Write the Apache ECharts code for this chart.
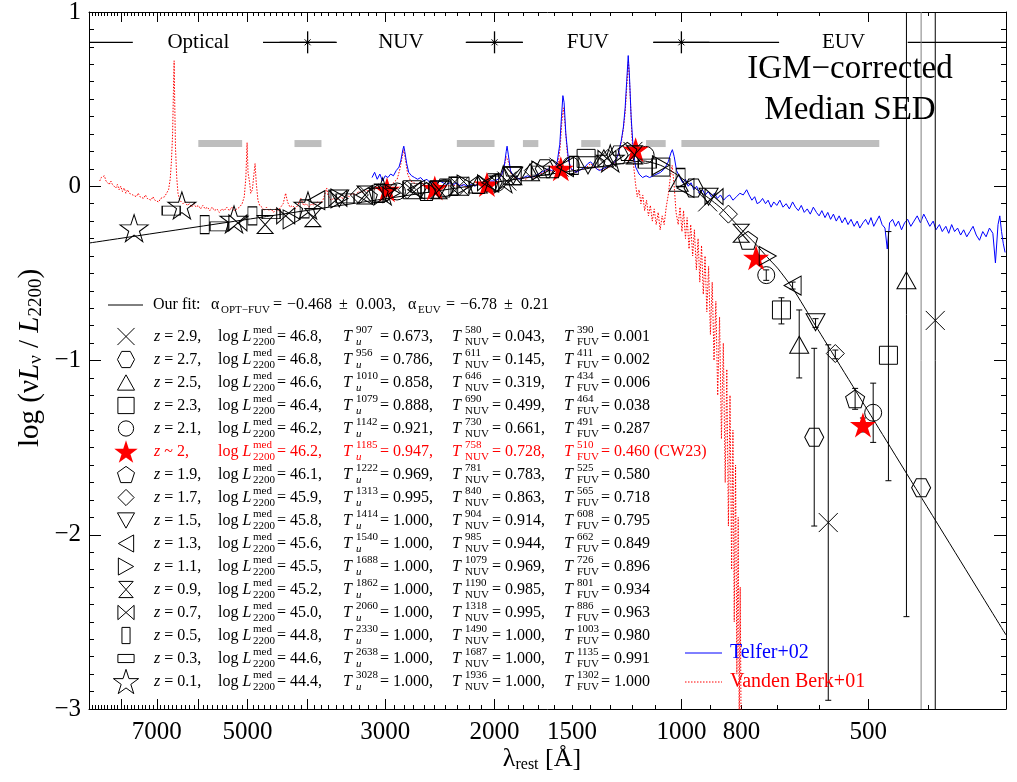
<!DOCTYPE html>
<html><head><meta charset="utf-8">
<script src="https://cdn.jsdelivr.net/npm/echarts@6/dist/echarts.min.js"></script>
<style>html,body{margin:0;padding:0;background:#fff}#c{width:1017px;height:782px}</style>
</head><body><div id="c"></div>
<script>
// ---------------- DATA ----------------
const lamMin = 300, lamMax = 9000;
const tickLabelValues = [7000, 5000, 3000, 2000, 1500, 1000, 800, 500];
const majorTickValues = [8000, 7000, 6000, 5000, 4000, 3000, 2000, 1000, 500];

const bandNames = ['Optical', 'NUV', 'FUV', 'EUV'];
const bandLabelLambda = [6000, 2830, 1415, 548];
const bandBoundaries = [4000, 2000, 1000];
const bandSegments = [[9000, 7650], [4720, 3590], [2225, 1800], [1110, 696], [432, 300]];
const bandLineValue = 0.826;

const grayWindows = [[6000, 5100], [4200, 3800], [2300, 2000], [1800, 1700], [1450, 1350], [1140, 1060], [1000, 480]];
const grayWindowValue = 0.245;

// best-fit broken power law
const fitLambda = [9000, 2200, 1500, 1250, 1150, 1080, 1020, 960, 910, 860, 800, 760, 726, 700, 662, 608, 491, 300];
const fitValue = [-0.326, 0.0, 0.088, 0.13, 0.145, 0.12, 0.07, 0.0, -0.06, -0.13, -0.25, -0.33, -0.41, -0.47, -0.585, -0.80, -1.337, -2.575];

const zLabels = ['2.9', '2.7', '2.5', '2.3', '2.1', '~ 2', '1.9', '1.7', '1.5', '1.3', '1.1', '0.9', '0.7', '0.5', '0.3', '0.1'];
const logL2200 = ['46.8', '46.8', '46.6', '46.4', '46.2', '46.2', '46.1', '45.9', '45.8', '45.6', '45.5', '45.2', '45.0', '44.8', '44.6', '44.4'];
const lamU = [907, 956, 1010, 1079, 1142, 1185, 1222, 1313, 1414, 1540, 1688, 1862, 2060, 2330, 2638, 3028];
const tU = ['0.673', '0.786', '0.858', '0.888', '0.921', '0.947', '0.969', '0.995', '1.000', '1.000', '1.000', '1.000', '1.000', '1.000', '1.000', '1.000'];
const lamNUV = [580, 611, 646, 690, 730, 758, 781, 840, 904, 985, 1079, 1190, 1318, 1490, 1687, 1936];
const tNUV = ['0.043', '0.145', '0.319', '0.499', '0.661', '0.728', '0.783', '0.863', '0.914', '0.944', '0.969', '0.985', '0.995', '1.000', '1.000', '1.000'];
const lamFUV = [390, 411, 434, 464, 491, 510, 525, 565, 608, 662, 726, 801, 886, 1003, 1135, 1302];
const tFUV = ['0.001', '0.002', '0.006', '0.038', '0.287', '0.460', '0.580', '0.718', '0.795', '0.849', '0.896', '0.934', '0.963', '0.980', '0.991', '1.000'];

// rest wavelengths of the photometric points (FUV, NUV, u, g, r, i, z) per redshift bin
const sedLambda = [
  [390, 580, 907, 1197, 1575, 1911, 2281],
  [411, 611, 956, 1262, 1660, 2014, 2405],
  [434, 646, 1010, 1333, 1753, 2128, 2540],
  [464, 690, 1079, 1424, 1873, 2273, 2714],
  [491, 730, 1142, 1507, 1982, 2406, 2872],
  [510, 758, 1185, 1564, 2057, 2496, 2980],
  [525, 781, 1222, 1613, 2122, 2574, 3073],
  [565, 840, 1313, 1732, 2279, 2766, 3302],
  [608, 904, 1414, 1866, 2455, 2979, 3557],
  [662, 985, 1540, 2032, 2674, 3244, 3873],
  [726, 1079, 1688, 2227, 2930, 3555, 4245],
  [801, 1190, 1862, 2457, 3233, 3923, 4683],
  [886, 1318, 2060, 2718, 3576, 4339, 5181],
  [1003, 1490, 2330, 3075, 4045, 4909, 5860],
  [1135, 1687, 2638, 3481, 4580, 5558, 6635],
  [1302, 1936, 3028, 3995, 5256, 6377, 7614]
];
const sedValue = [
  [-0.77, -1.93, -0.09, 0.20, 0.11, 0.03, 0.00],
  [-1.73, -1.44, -0.01, 0.18, 0.10, 0.02, -0.01],
  [-0.54, -0.91, 0.02, 0.16, 0.08, 0.01, -0.02],
  [-0.97, -0.71, 0.11, 0.16, 0.06, 0.00, -0.02],
  [-1.30, -0.51, 0.18, 0.12, 0.02, -0.01, -0.03],
  [-1.37, -0.41, 0.21, 0.10, 0.01, -0.01, -0.02],
  [-1.22, -0.31, 0.20, 0.10, 0.01, -0.03, -0.04],
  [-0.96, -0.16, 0.16, 0.09, 0.00, -0.02, -0.05],
  [-0.78, -0.06, 0.12, 0.06, -0.02, -0.04, -0.07],
  [-0.57, -0.01, 0.11, 0.02, -0.02, -0.05, -0.08],
  [-0.40, 0.12, 0.09, 0.01, -0.04, -0.07, -0.19],
  [-0.27, 0.18, 0.06, -0.02, -0.05, -0.18, -0.22],
  [-0.06, 0.16, 0.02, -0.02, -0.07, -0.17, -0.21],
  [0.05, 0.12, 0.00, -0.04, -0.13, -0.17, -0.22],
  [0.13, 0.09, -0.01, -0.07, -0.16, -0.23, -0.14],
  [0.16, 0.04, -0.03, -0.11, -0.19, -0.11, -0.24]
];

// error bars on the EUV points: wavelength, low, high
const errLambda = [390, 580, 611, 434, 646, 464, 690, 491, 730, 510, 525, 565, 608, 662];
const errLow = [-3.3, -2.95, -1.95, -2.47, -1.10, -1.69, -0.79, -1.47, -0.54, -1.41, -1.28, -0.99, -0.81, -0.59];
const errHigh = [1.3, -0.91, -0.93, 1.3, -0.71, -0.26, -0.64, -1.13, -0.48, -1.33, -1.16, -0.94, -0.76, -0.55];
const errGrayLambda = [411];
const errGrayLow = [-3.3];
const errGrayHigh = [1.3];

const telferSpectrum = [
[3150,0.05],[3120,0.08],[3090,0.04],[3060,0.07],[3030,0.03],[3000,0.06],[2970,0.05],[2940,0.07],[2910,0.06],[2880,0.09],[2850,0.11],[2830,0.15],[2810,0.21],[2800,0.23],[2790,0.20],[2770,0.13],[2750,0.08],[2720,0.06],[2690,0.05],[2660,0.04],[2630,0.05],[2600,0.03],[2570,0.04],[2540,0.02],[2510,0.03],[2480,0.02],[2450,0.03],[2420,0.02],[2390,0.01],[2360,0.02],[2330,0.01],[2300,0.02],[2270,0.00],[2240,0.01],[2210,0.00],[2180,0.01],[2150,0.00],[2120,0.02],[2090,0.01],[2060,0.02],[2030,0.03],[2000,0.03],[1975,0.04],[1950,0.06],[1930,0.11],[1915,0.20],[1909,0.23],[1900,0.18],[1885,0.09],[1865,0.06],[1845,0.05],[1820,0.04],[1795,0.05],[1770,0.06],[1745,0.05],[1720,0.06],[1700,0.07],[1680,0.08],[1660,0.09],[1640,0.10],[1620,0.09],[1600,0.10],[1585,0.14],[1570,0.24],[1560,0.40],[1552,0.52],[1545,0.48],[1535,0.30],[1520,0.15],[1505,0.10],[1490,0.09],[1475,0.08],[1460,0.09],[1445,0.10],[1430,0.11],[1415,0.13],[1400,0.14],[1385,0.12],[1370,0.10],[1355,0.09],[1340,0.10],[1320,0.11],[1300,0.12],[1280,0.14],[1265,0.18],[1250,0.26],[1240,0.34],[1232,0.45],[1225,0.60],[1218,0.75],[1212,0.62],[1205,0.40],[1195,0.20],[1185,0.11],[1170,0.07],[1155,0.05],[1140,0.06],[1125,0.05],[1110,0.06],[1095,0.07],[1080,0.08],[1065,0.10],[1050,0.14],[1040,0.19],[1034,0.21],[1027,0.17],[1018,0.09],[1006,0.05],
[995,0.02],[985,0.04],[975,0.00],[965,0.02],[955,-0.02],[945,0.00],[935,-0.04],[925,-0.02],[915,-0.05],[905,-0.03],[895,-0.06],[885,-0.04],[875,-0.07],[865,-0.05],[855,-0.08],[845,-0.06],[836,-0.05],[826,-0.08],[815,-0.06],[805,-0.04],[795,-0.05],[785,-0.02],[778,-0.05],[770,-0.08],[762,-0.06],[755,-0.10],[747,-0.09],[740,-0.07],[732,-0.10],[725,-0.08],[717,-0.12],[710,-0.09],[702,-0.11],[694,-0.08],[686,-0.12],[678,-0.10],[670,-0.13],[662,-0.09],[655,-0.12],[648,-0.14],[641,-0.11],[634,-0.15],[627,-0.13],[620,-0.16],[613,-0.12],[606,-0.15],[600,-0.17],[594,-0.14],[587,-0.18],[581,-0.15],[575,-0.19],[569,-0.16],[563,-0.20],[557,-0.17],[551,-0.21],[545,-0.18],[539,-0.22],[533,-0.19],[527,-0.23],[521,-0.20],[516,-0.24],[510,-0.21],[505,-0.19],[500,-0.22],[495,-0.18],[490,-0.23],[485,-0.20],[480,-0.17],[475,-0.22],[470,-0.24],[466,-0.36],[462,-0.21],[457,-0.19],[452,-0.23],[447,-0.20],[442,-0.25],[437,-0.21],[432,-0.19],[427,-0.23],[422,-0.20],[417,-0.17],[412,-0.21],[407,-0.16],[403,-0.19],[398,-0.23],[393,-0.20],[389,-0.25],[384,-0.22],[380,-0.26],[375,-0.23],[371,-0.27],[367,-0.22],[363,-0.26],[359,-0.24],[355,-0.28],[351,-0.25],[347,-0.29],[343,-0.26],[339,-0.23],[335,-0.28],[331,-0.31],[327,-0.26],[323,-0.29],[319,-0.24],[315,-0.27],[312,-0.44],[309,-0.22],[307,-0.17],[305,-0.26],[303,-0.33],[301,-0.38]
];

const vandenBerkSpectrum = [
[8650,0.03],[8600,0.05],[8550,0.04],[8500,0.06],[8450,0.03],[8400,0.04],[8350,0.01],[8300,0.03],[8250,0.01],[8200,0.02],[8150,-0.01],[8100,0.01],[8050,-0.02],[8000,0.00],[7950,-0.03],[7900,-0.01],[7850,-0.04],[7800,-0.02],[7750,-0.04],[7700,-0.03],[7650,-0.05],[7600,-0.04],[7550,-0.06],[7500,-0.04],[7450,-0.06],[7400,-0.05],[7350,-0.07],[7300,-0.05],[7250,-0.07],[7200,-0.06],[7150,-0.08],[7100,-0.06],[7050,-0.08],[7000,-0.07],[6950,-0.09],[6900,-0.07],[6850,-0.08],[6800,-0.06],[6750,-0.05],[6700,-0.02],[6660,0.04],[6630,0.14],[6600,0.30],[6580,0.55],[6563,0.72],[6550,0.50],[6530,0.22],[6500,0.05],[6470,-0.04],[6430,-0.08],[6400,-0.09],[6350,-0.10],[6300,-0.09],[6250,-0.11],[6200,-0.10],[6150,-0.12],[6100,-0.10],[6050,-0.12],[6000,-0.11],[5950,-0.13],[5900,-0.11],[5850,-0.13],[5800,-0.12],[5750,-0.14],[5700,-0.12],[5650,-0.14],[5600,-0.13],[5550,-0.15],[5500,-0.13],[5450,-0.14],[5400,-0.12],[5350,-0.14],[5300,-0.12],[5250,-0.14],[5200,-0.13],[5150,-0.12],[5100,-0.10],[5060,-0.06],[5030,0.05],[5007,0.25],[4990,0.08],[4960,0.02],[4940,-0.04],[4910,-0.02],[4885,0.06],[4861,0.13],[4840,0.02],[4810,-0.08],[4780,-0.11],[4740,-0.12],[4700,-0.14],[4660,-0.12],[4620,-0.14],[4580,-0.13],[4540,-0.15],[4500,-0.13],[4460,-0.14],[4420,-0.12],[4380,-0.10],[4340,-0.04],[4310,-0.09],[4270,-0.12],[4230,-0.11],[4190,-0.13],[4150,-0.11],[4102,-0.07],[4060,-0.11],[4020,-0.10],[3980,-0.12],[3940,-0.10],[3900,-0.11],[3860,-0.09],[3820,-0.10],[3780,-0.08],[3740,-0.03],[3727,-0.01],[3710,-0.05],[3670,-0.08],[3630,-0.07],[3590,-0.08],[3550,-0.06],[3510,-0.07],[3470,-0.05],[3430,-0.06],[3390,-0.04],[3350,-0.05],[3310,-0.03],[3270,-0.04],[3230,-0.02],[3190,-0.03],[3150,-0.01],[3110,-0.02],[3070,0.00],[3030,-0.01],[2990,0.01],[2950,0.00],[2910,0.02],[2870,0.04],[2840,0.10],[2820,0.16],[2800,0.21],[2785,0.16],[2760,0.07],[2730,0.03],[2700,0.02],[2660,0.01],[2620,0.02],[2580,0.00],[2540,0.01],[2500,0.00],[2460,0.01],[2420,-0.01],[2380,0.00],[2340,0.01],[2300,0.00],[2260,0.01],[2220,-0.01],[2180,0.00],[2140,0.01],[2100,0.02],[2060,0.01],[2020,0.02],[1990,0.03],[1960,0.05],[1935,0.09],[1915,0.17],[1905,0.18],[1895,0.13],[1880,0.07],[1860,0.05],[1840,0.04],[1810,0.05],[1780,0.04],[1750,0.06],[1720,0.05],[1690,0.07],[1660,0.08],[1640,0.10],[1615,0.08],[1595,0.09],[1580,0.13],[1568,0.22],[1558,0.37],[1549,0.45],[1540,0.36],[1528,0.20],[1515,0.12],[1500,0.09],[1480,0.08],[1460,0.09],[1440,0.10],[1420,0.11],[1400,0.13],[1385,0.11],[1365,0.10],[1345,0.09],[1325,0.10],[1305,0.11],[1285,0.13],[1265,0.18],[1250,0.25],[1240,0.33],[1232,0.42],[1224,0.58],[1217,0.72],[1210,0.55],[1202,0.30],[1194,0.12],[1186,0.02],[1178,-0.06],[1170,-0.02],[1162,-0.10],[1154,-0.05],[1146,-0.14],[1138,-0.08],[1130,-0.17],[1122,-0.11],[1114,-0.20],[1106,-0.13],[1098,-0.22],[1090,-0.15],[1082,-0.25],[1074,-0.17],[1066,-0.22],[1058,-0.12],[1050,-0.05],[1042,0.05],[1035,0.12],[1028,0.02],[1020,-0.15],[1012,-0.22],[1005,-0.12],[998,-0.26],[992,-0.14],[985,-0.30],[979,-0.18],[972,-0.36],[966,-0.22],[959,-0.40],[953,-0.25],[946,-0.48],[940,-0.30],[934,-0.55],[928,-0.34],[922,-0.62],[916,-0.40],[910,-0.72],[904,-0.46],[898,-0.85],[892,-0.55],[886,-1.00],[880,-0.66],[874,-1.20],[868,-0.75],[862,-1.45],[856,-0.90],[850,-1.70],[845,-1.05],[840,-1.95],[835,-1.20],[830,-2.20],[826,-1.40],[822,-2.50],[818,-1.60],[814,-2.80],[810,-1.90],[807,-3.10],[804,-2.30],[801,-3.20]
];

// ---------------- STYLE / HELPERS ----------------
const SERIF = '"Liberation Serif", "DejaVu Serif", "Times New Roman", serif';
const X = l => Math.log10(l);
const minorTickValues = [];
for (let l = 400; l < 9000; l += 100) { if (majorTickValues.indexOf(l) < 0) minorTickValues.push(l); }

const P = {
  cross: 'M0,0L20,20M20,0L0,20',
  hex: 'M0,10L5,1.34L15,1.34L20,10L15,18.66L5,18.66Z',
  tri: 'M10,0L20,17.32L0,17.32Z',
  sq: 'M0,0L20,0L20,20L0,20Z',
  circ: 'M20,10A10,10,0,1,1,0,10A10,10,0,1,1,20,10Z',
  star: 'M10,0L12.245,6.91L19.51,6.91L13.633,11.18L15.878,18.09L10,13.82L4.122,18.09L6.367,11.18L0.49,6.91L7.755,6.91Z',
  pent: 'M10,0L19.51,6.91L15.878,18.09L4.122,18.09L0.49,6.91Z',
  dia: 'M10,0L20,10L10,20L0,10Z',
  tdown: 'M0,0L20,0L10,17.32Z',
  tleft: 'M0,10L17.32,0L17.32,20Z',
  tright: 'M0,0L17.32,10L0,20Z',
  hour: 'M0,0L20,0L0,20L20,20Z',
  bow: 'M0,0L20,20L20,0L0,20Z'
};
const symbolStyles = [
  {p: P.cross, s: [19, 19]}, {p: P.hex, s: [19, 18]}, {p: P.tri, s: [19, 17]}, {p: P.sq, s: [18, 18]},
  {p: P.circ, s: [17, 17]}, {p: P.star, s: [26, 25], red: true}, {p: P.pent, s: [19, 18]}, {p: P.dia, s: [18, 18]},
  {p: P.tdown, s: [19, 17]}, {p: P.tleft, s: [17, 19]}, {p: P.tright, s: [17, 19]}, {p: P.hour, s: [16, 18]},
  {p: P.bow, s: [18, 16]}, {p: P.sq, s: [9, 18]}, {p: P.sq, s: [18, 9]}, {p: P.star, s: [28, 27]}
];

function axisX(pos, ticks, len, labels, line) {
  return {
    type: 'value', position: pos, min: X(lamMin), max: X(lamMax), inverse: true,
    axisLine: {show: line, onZero: false, lineStyle: {color: '#000', width: 1}},
    axisTick: {show: true, inside: true, length: len, customValues: ticks.map(X), lineStyle: {color: '#000', width: 1}},
    axisLabel: labels ? {show: true, customValues: tickLabelValues.map(X), formatter: v => String(Math.round(Math.pow(10, v))),
      color: '#000', fontFamily: SERIF, fontSize: 25, margin: 11} : {show: false},
    splitLine: {show: false}, minorTick: {show: false}
  };
}
function axisY(pos, labels) {
  return {
    type: 'value', position: pos, min: -3, max: 1, interval: 1,
    axisLine: {show: true, onZero: false, lineStyle: {color: '#000', width: 1}},
    axisTick: {show: true, inside: true, length: 12, lineStyle: {color: '#000'}},
    minorTick: {show: true, splitNumber: 10, length: 5, lineStyle: {color: '#000'}},
    axisLabel: labels ? {show: true, showMinLabel: true, showMaxLabel: true, color: '#000', fontFamily: SERIF, fontSize: 25, margin: 8,
      formatter: v => (v < 0 ? '\u2212' + (-v) : String(v))} : {show: false},
    splitLine: {show: false}
  };
}

function errSeries(lams, lows, highs, color) {
  return {
    type: 'custom', z: 4, silent: true,
    data: lams.map((l, i) => [X(l), lows[i], highs[i]]),
    encode: {x: 0, y: [1, 2]},
    renderItem: (params, api) => {
      const cs = params.coordSys;
      const pLo = api.coord([api.value(0), api.value(1)]);
      const pHi = api.coord([api.value(0), api.value(2)]);
      const top = cs.y, bot = cs.y + cs.height, x = pLo[0];
      const ch = [{type: 'line', shape: {x1: x, y1: Math.max(pHi[1], top), x2: x, y2: Math.min(pLo[1], bot)}, style: {stroke: color, lineWidth: 1}}];
      if (pHi[1] >= top) ch.push({type: 'line', shape: {x1: x - 3, y1: pHi[1], x2: x + 3, y2: pHi[1]}, style: {stroke: color, lineWidth: 1}});
      if (pLo[1] <= bot) ch.push({type: 'line', shape: {x1: x - 3, y1: pLo[1], x2: x + 3, y2: pLo[1]}, style: {stroke: color, lineWidth: 1}});
      return {type: 'group', children: ch};
    }
  };
}

const series = [];
// gray continuum windows
series.push({
  type: 'custom', z: 1, silent: true,
  data: grayWindows.map(w => [X(w[0]), X(w[1]), grayWindowValue]),
  encode: {x: [0, 1], y: 2},
  renderItem: (params, api) => {
    const a = api.coord([api.value(0), api.value(2)]), b = api.coord([api.value(1), api.value(2)]);
    return {type: 'rect', shape: {x: a[0], y: a[1] - 3.5, width: b[0] - a[0], height: 7}, style: {fill: '#bebebe'}};
  }
});
// spectra
series.push({type: 'line', name: 'Vanden Berk+01', z: 2, silent: true, showSymbol: false, symbol: 'none',
  data: vandenBerkSpectrum.map(d => [X(d[0]), d[1]]), lineStyle: {color: '#ff0000', width: 1, type: [1.5, 1.5]}});
series.push({type: 'line', name: 'Telfer+02', z: 2, silent: true, showSymbol: false, symbol: 'none',
  data: telferSpectrum.map(d => [X(d[0]), d[1]]), lineStyle: {color: '#0000ff', width: 1}});
// fit
series.push({type: 'line', name: 'fit', z: 3, silent: true, symbol: 'none', smooth: 0.2,
  data: fitLambda.map((l, i) => [X(l), fitValue[i]]), lineStyle: {color: '#000', width: 1}});
// band annotation line
series.push({
  type: 'custom', z: 3, silent: true,
  data: bandSegments.map(s => [X(s[0]), X(s[1]), bandLineValue]),
  encode: {x: [0, 1], y: 2},
  renderItem: (params, api) => {
    const a = api.coord([api.value(0), api.value(2)]), b = api.coord([api.value(1), api.value(2)]);
    return {type: 'line', shape: {x1: a[0], y1: a[1], x2: b[0], y2: b[1]}, style: {stroke: '#000', lineWidth: 1.3}};
  }
});
series.push({
  type: 'custom', z: 3, silent: true,
  data: bandBoundaries.map(l => [X(l), bandLineValue]),
  encode: {x: 0, y: 1},
  renderItem: (params, api) => {
    const p = api.coord([api.value(0), api.value(1)]);
    const st = {stroke: '#000', lineWidth: 1.3};
    return {type: 'group', children: [
      {type: 'line', shape: {x1: p[0] - 28, y1: p[1], x2: p[0] + 28, y2: p[1]}, style: st},
      {type: 'line', shape: {x1: p[0], y1: p[1] - 11, x2: p[0], y2: p[1] + 11}, style: st},
      {type: 'line', shape: {x1: p[0] - 3, y1: p[1] - 3, x2: p[0] + 3, y2: p[1] + 3}, style: {stroke: '#000', lineWidth: 1}},
      {type: 'line', shape: {x1: p[0] - 3, y1: p[1] + 3, x2: p[0] + 3, y2: p[1] - 3}, style: {stroke: '#000', lineWidth: 1}}
    ]};
  }
});
series.push({
  type: 'custom', z: 3, silent: true,
  data: bandLabelLambda.map(l => [X(l), bandLineValue]),
  encode: {x: 0, y: 1},
  renderItem: (params, api) => {
    const p = api.coord([api.value(0), api.value(1)]);
    return {type: 'text', x: p[0], y: p[1], style: {text: bandNames[params.dataIndex], fill: '#000', fontSize: 21, fontFamily: SERIF, align: 'center', verticalAlign: 'middle'}};
  }
});
// error bars
series.push(errSeries(errLambda, errLow, errHigh, '#000'));
series.push(errSeries(errGrayLambda, errGrayLow, errGrayHigh, '#808080'));
// photometric points
sedLambda.forEach((lams, i) => {
  const sy = symbolStyles[i];
  series.push({
    type: 'scatter', name: 'z=' + zLabels[i], z: 5, silent: true,
    symbol: 'path://' + sy.p, symbolSize: sy.s,
    data: lams.map((l, j) => [X(l), sedValue[i][j]]),
    itemStyle: sy.red ? {color: '#ff0000', borderWidth: 0, opacity: 1} : {color: 'rgba(0,0,0,0)', borderColor: '#000', borderWidth: 1, opacity: 1}
  });
});
// legend symbols (layout only, no coordinate system)
series.push({
  type: 'custom', coordinateSystem: 'none', z: 10, silent: true,
  data: zLabels.map((z, i) => [i]),
  renderItem: (params, api) => {
    const i = params.dataIndex;
    const sy = symbolStyles[i];
    const y = 336.5 + 23.0 * i;
    const w = sy.s[0] * 0.9, h = sy.s[1] * 0.9;
    return {type: 'path', x: 126, y: y,
      shape: {pathData: sy.p, x: -w / 2, y: -h / 2, width: w, height: h, layout: 'cover'},
      style: sy.red ? {fill: '#ff0000', stroke: null} : {fill: 'none', stroke: '#000', lineWidth: 1}};
  }
});

// ---------------- GRAPHIC (legend and text) ----------------
const g = [];
function T(x, y, text, size, color, align) {
  return {type: 'text', x: x, y: y, silent: true, z: 10, style: {
    text: text, fill: color, fontSize: size, fontFamily: SERIF, align: align || 'left', verticalAlign: 'middle',
    rich: {i: {fontStyle: 'italic', fontSize: size, fontFamily: SERIF, fill: color}}
  }};
}
// fit legend row
g.push({type: 'line', z: 10, shape: {x1: 108, y1: 305, x2: 143, y2: 305}, style: {stroke: '#000', lineWidth: 1}});
g.push(T(153, 305, 'Our fit:', 16, '#000'));
g.push(T(211, 305, 'α', 16, '#000'));
g.push(T(221, 310, 'OPT\u2212FUV', 11, '#000'));
g.push(T(273, 305, '=', 16, '#000'));
g.push(T(287, 305, '\u22120.468', 16, '#000'));
g.push(T(339, 305, '±', 16, '#000'));
g.push(T(356, 305, '0.003,', 16, '#000'));
g.push(T(408, 305, 'α', 16, '#000'));
g.push(T(418, 310, 'EUV', 11, '#000'));
g.push(T(446, 305, '=', 16, '#000'));
g.push(T(460, 305, '\u22126.78', 16, '#000'));
g.push(T(504, 305, '±', 16, '#000'));
g.push(T(521, 305, '0.21', 16, '#000'));
// redshift rows
zLabels.forEach((z, i) => {
  const y = 336.5 + 23.0 * i;
  const col = symbolStyles[i].red ? '#ff0000' : '#000';
  g.push(T(154, y, '{i|z} ' + (z.charAt(0) === '~' ? '~ 2,' : '= ' + z + ','), 16, col));
  g.push(T(218, y, 'log {i|L}', 16, col));
  g.push(T(253, y - 6, 'med', 11, col));
  g.push(T(253, y + 6, '2200', 11, col));
  g.push(T(277, y, '= ' + logL2200[i] + ',', 16, col));
  g.push(T(343, y, '{i|T}', 16, col));
  g.push(T(356, y - 6, String(lamU[i]), 11, col));
  g.push(T(356, y + 6, '{i|u}', 11, col));
  g.push(T(380, y, '= ' + tU[i] + ',', 16, col));
  g.push(T(452, y, '{i|T}', 16, col));
  g.push(T(465, y - 6, String(lamNUV[i]), 11, col));
  g.push(T(465, y + 6, 'NUV', 11, col));
  g.push(T(492, y, '= ' + tNUV[i] + ',', 16, col));
  g.push(T(564, y, '{i|T}', 16, col));
  g.push(T(577, y - 6, String(lamFUV[i]), 11, col));
  g.push(T(577, y + 6, 'FUV', 11, col));
  g.push(T(601, y, '= ' + tFUV[i] + (symbolStyles[i].red ? ' (CW23)' : ''), 16, col));
});
// spectra legend
g.push({type: 'line', z: 10, shape: {x1: 685, y1: 653, x2: 722, y2: 653}, style: {stroke: '#0000ff', lineWidth: 1}});
g.push(T(730, 653, 'Telfer+02', 20, '#0000ff'));
g.push({type: 'line', z: 10, shape: {x1: 685, y1: 682, x2: 722, y2: 682}, style: {stroke: '#ff0000', lineWidth: 1, lineDash: [1.5, 1.5]}});
g.push(T(730, 682, 'Vanden Berk+01', 20, '#ff0000'));
// title
g.push(T(850, 69, 'IGM\u2212corrected', 33, '#000', 'center'));
g.push(T(850, 110, 'Median SED', 33, '#000', 'center'));
// axis names
g.push({type: 'text', x: 542, y: 759, silent: true, z: 10, style: {
  text: '{l|λ}{s|rest}{n| [Å]}', align: 'center', verticalAlign: 'middle', fill: '#000',
  rich: {l: {fontSize: 26, fontFamily: SERIF, fill: '#000'}, s: {fontSize: 16, fontFamily: SERIF, fill: '#000', padding: [12, 0, 0, 0]},
         n: {fontSize: 26, fontFamily: SERIF, fill: '#000'}}}});
g.push({type: 'text', x: 30, y: 358, rotation: Math.PI / 2, silent: true, z: 10, style: {
  text: '{n|log (ν}{i|L}{s|ν}{n| / }{i|L}{s|2200}{n|)}', align: 'center', verticalAlign: 'middle', fill: '#000',
  rich: {n: {fontSize: 29, fontFamily: SERIF, fill: '#000'}, i: {fontSize: 29, fontFamily: SERIF, fontStyle: 'italic', fill: '#000'},
         s: {fontSize: 19, fontFamily: SERIF, fill: '#000', padding: [13, 0, 0, 0]}}}});

const option = {
  animation: false,
  backgroundColor: '#ffffff',
  grid: {left: 89, right: 11, top: 12, bottom: 73, outerBoundsMode: 'none'},
  xAxis: [
    axisX('bottom', majorTickValues, 10, true, true),
    axisX('bottom', minorTickValues, 4, false, false),
    axisX('top', majorTickValues, 10, false, true),
    axisX('top', minorTickValues, 4, false, false)
  ],
  yAxis: [axisY('left', true), axisY('right', false)],
  series: series,
  graphic: {elements: g}
};
const chart = echarts.init(document.getElementById('c'), null, {renderer: 'canvas'});
chart.setOption(option);
</script></body></html>
